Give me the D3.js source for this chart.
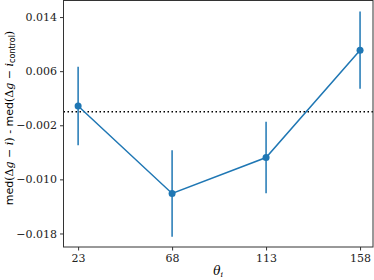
<!DOCTYPE html>
<html>
<head>
    <script src="https://cdnjs.cloudflare.com/ajax/libs/d3/7.8.5/d3.min.js"></script>
    <style>
        body { margin: 0; background: #fff; }
        text { font-family: "DejaVu Serif", serif; }
    </style>
</head>
<body>
    <div id="vis"></div>
    <script>
        // data
        var angles = [23, 68, 113, 158];
        var medDiff = [0.00085, -0.01208, -0.00677, 0.00911];
        var errSize = [0.0058, 0.0064, 0.0053, 0.0057];
        var yTicks = [0.014, 0.006, -0.002, -0.010, -0.018];
        var blue = "#1f77b4";

        var W = 374, H = 280;
        var m = {left: 63.5, right: 373, top: 0.5, bottom: 247};

        var x = d3.scaleLinear().domain([16.0, 164.2]).range([m.left, m.right]);
        var y = d3.scaleLinear().domain([-0.0200, 0.01645]).range([m.bottom, m.top]);

        var svg = d3.select("#vis").append("svg")
            .attr("width", W)
            .attr("height", H);

        // axes
        var yAxis = d3.axisLeft(y).tickValues(yTicks).tickSize(3.5).tickPadding(3)
            .tickFormat(function(d) { return (d < 0 ? "\u2212" : "") + Math.abs(d).toFixed(3); });
        var gy = svg.append("g").attr("transform", "translate(" + m.left + ",0)").call(yAxis);
        gy.select(".domain").remove();
        gy.selectAll("text").style("font-size", "11px").attr("fill", "#222");
        gy.selectAll("line").attr("stroke", "#333");

        var xAxis = d3.axisBottom(x).tickValues(angles).tickSize(3.5).tickPadding(4);
        var gx = svg.append("g").attr("transform", "translate(0," + m.bottom + ")").call(xAxis);
        gx.select(".domain").remove();
        gx.selectAll("text").style("font-size", "11px").attr("fill", "#222");
        gx.selectAll("line").attr("stroke", "#333");

        // zero line
        svg.append("line")
            .attr("x1", m.left).attr("x2", m.right)
            .attr("y1", y(0)).attr("y2", y(0))
            .attr("stroke", "#000").attr("stroke-width", 1.5)
            .attr("stroke-dasharray", "1.5,2.5");

        // error bars
        svg.selectAll(".err").data(angles).enter().append("line")
            .attr("class", "err")
            .attr("x1", function(d) { return x(d); })
            .attr("x2", function(d) { return x(d); })
            .attr("y1", function(d, i) { return y(medDiff[i] + errSize[i]); })
            .attr("y2", function(d, i) { return y(medDiff[i] - errSize[i]); })
            .attr("stroke", blue).attr("stroke-width", 1.5);

        var line = d3.line()
            .x(function(d) { return x(d); })
            .y(function(d, i) { return y(medDiff[i]); });
        svg.append("path").datum(angles)
            .attr("d", line)
            .attr("fill", "none")
            .attr("stroke", blue).attr("stroke-width", 1.5);

        svg.selectAll(".pt").data(angles).enter().append("circle")
            .attr("class", "pt")
            .attr("cx", function(d) { return x(d); })
            .attr("cy", function(d, i) { return y(medDiff[i]); })
            .attr("r", 3.5)
            .attr("fill", blue);

        // frame
        svg.append("rect")
            .attr("x", m.left).attr("y", m.top)
            .attr("width", m.right - m.left).attr("height", m.bottom - m.top)
            .attr("fill", "none").attr("stroke", "#333").attr("stroke-width", 1);

        // labels
        var xl = svg.append("text")
            .attr("x", (m.left + m.right) / 2).attr("y", 275)
            .attr("text-anchor", "middle").style("font-size", "12px");
        xl.append("tspan").style("font-style", "italic").text("\u03b8");
        xl.append("tspan").style("font-style", "italic").style("font-size", "8px").attr("dy", 2).text("i");

        var yl = svg.append("text")
            .attr("transform", "translate(13," + 118 + ") rotate(-90)")
            .attr("text-anchor", "middle").style("font-size", "11px");
        yl.append("tspan").style("font-family", "'DejaVu Sans', sans-serif").text("med");
        yl.append("tspan").text("(\u0394");
        yl.append("tspan").style("font-style", "italic").text("g");
        yl.append("tspan").text(" \u2212 ");
        yl.append("tspan").style("font-style", "italic").text("i");
        yl.append("tspan").text(")");
        yl.append("tspan").style("font-family", "'DejaVu Sans', sans-serif").text(" - med");
        yl.append("tspan").text("(\u0394");
        yl.append("tspan").style("font-style", "italic").text("g");
        yl.append("tspan").text(" \u2212 ");
        yl.append("tspan").style("font-style", "italic").text("i");
        yl.append("tspan").style("font-family", "'DejaVu Sans', sans-serif").style("font-size", "8px").attr("dy", 2).text("control");
        yl.append("tspan").attr("dy", -2).text(")");
    </script>
</body>
</html>
